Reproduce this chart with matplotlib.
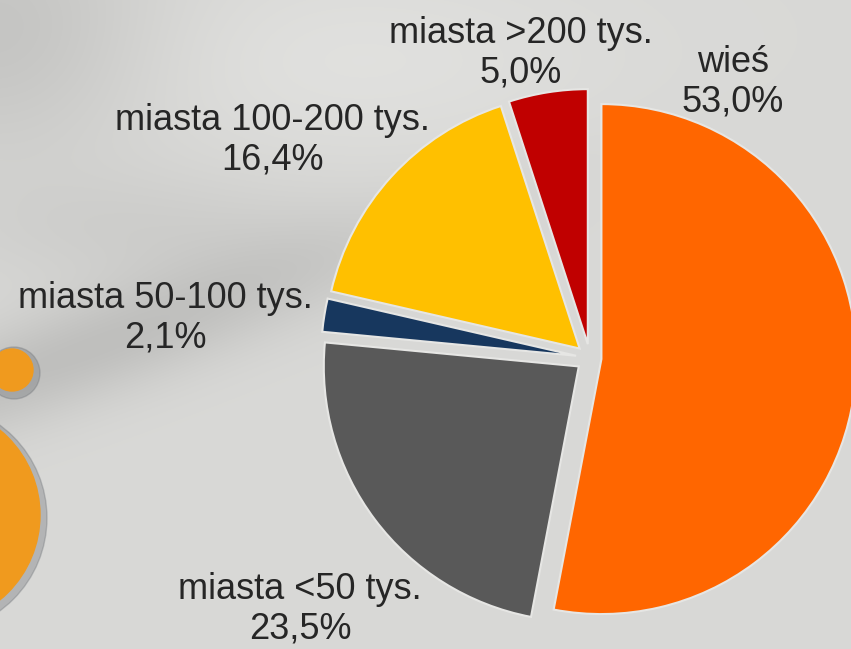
import numpy as np
import matplotlib.pyplot as plt
from matplotlib.patches import Circle

plt.rcParams['font.family'] = ['Liberation Sans', 'DejaVu Sans']

# dane
kategorie = ['wieś', 'miasta <50 tys.', 'miasta 50-100 tys.',
             'miasta 100-200 tys.', 'miasta >200 tys.']
udzial = [53.0, 23.5, 2.1, 16.4, 5.0]
kolory = ['#FF6600', '#595959', '#17375E', '#FFC000', '#C00000']
# pozycje etykiet w pikselach (x, y od gory)
etykiety_xy = [(733, 82), (300, 609), (165, 318), (272, 140), (521, 53)]

W, H = 851, 649
fig = plt.figure(figsize=(W / 100, H / 100), dpi=100)
ax = fig.add_axes([0, 0, 1, 1])

# tlo - szary gradient
yy, xx = np.mgrid[0:H, 0:W]
tlo = np.full((H, W), 0.85)
# ciemniejszy pas po lewej (cien)
d = (yy - (380 - 0.35 * xx)) / 55.0
tlo -= 0.10 * np.exp(-d ** 2) * np.exp(-((xx - 80) / 320.0) ** 2)
tlo -= 0.08 * np.exp(-(((xx - 0) / 160.0) ** 2 + ((yy - 30) / 130.0) ** 2))
tlo -= 0.04 * np.exp(-(((xx - 150) / 200.0) ** 2 + ((yy - 230) / 60.0) ** 2))
tlo += 0.03 * np.exp(-(((xx - 350) / 250.0) ** 2 + ((yy - 60) / 90.0) ** 2))
tlo = np.clip(tlo, 0, 1)
rgb = np.dstack([tlo, tlo, tlo * 0.99])
ax.imshow(rgb, extent=(0, W, 0, H), origin='upper', zorder=0, aspect='auto')

# dekoracja - pomaranczowe kola po lewej
for (cx, cy, r) in [(-70, 515, 110), (12, 370, 21)]:
    ax.add_patch(Circle((cx + 2, H - cy - 3), r + 5, color='#6f7378', alpha=0.35, zorder=1))
    ax.add_patch(Circle((cx, H - cy), r, color='#F09A1E', zorder=2))

# wykres kolowy
cx, cy, R = 590, 358, 255
odsuniecie = [0.045, 0.055, 0.055, 0.055, 0.055]
wedges, _ = ax.pie(udzial, colors=kolory, startangle=90, counterclock=False,
                   explode=[e * R for e in odsuniecie],
                   center=(cx, H - cy), radius=R, frame=True,
                   wedgeprops=dict(edgecolor='#e6e6e4', linewidth=1.5))
for w in wedges:
    w.set_zorder(3)
ax.set_xlim(0, W)
ax.set_ylim(0, H)
ax.axis('off')

for kat, val, (tx, ty) in zip(kategorie, udzial, etykiety_xy):
    tekst = '%s\n%s%%' % (kat, ('%.1f' % val).replace('.', ','))
    ax.text(tx, H - ty, tekst, ha='center', va='center', fontsize=26,
            color='#262626', linespacing=1.18, zorder=4)

fig.savefig('out.png', dpi=100)
